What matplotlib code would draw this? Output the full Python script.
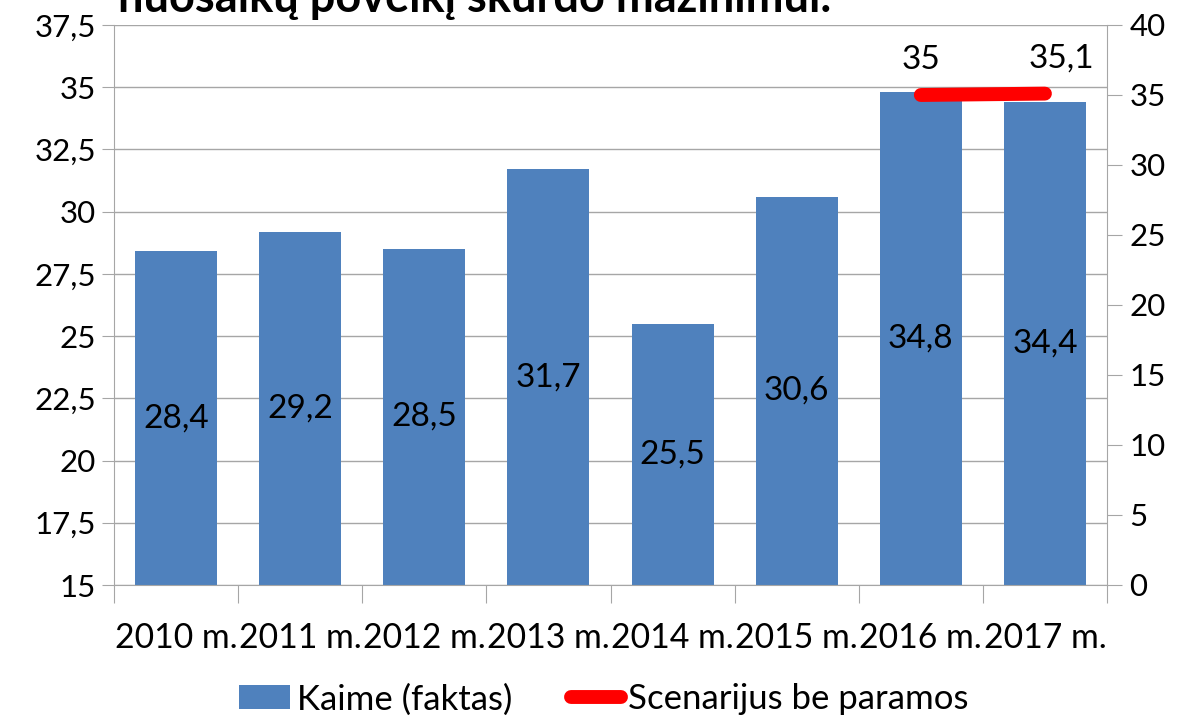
import matplotlib
matplotlib.use("Agg")
import matplotlib.pyplot as plt
import numpy as np

years = ["2010 m.", "2011 m.", "2012 m.", "2013 m.", "2014 m.", "2015 m.", "2016 m.", "2017 m."]
kaime = [28.4, 29.2, 28.5, 31.7, 25.5, 30.6, 34.8, 34.4]
scenario_years = ["2016 m.", "2017 m."]
scenario = [35.0, 35.1]

left_ticks = [15, 17.5, 20, 22.5, 25, 27.5, 30, 32.5, 35, 37.5]
right_ticks = [0, 5, 10, 15, 20, 25, 30, 35, 40]

BLUE = "#4F81BD"
RED = "#FF0000"
GRID = "#A6A6A6"

plt.rcParams["font.family"] = ["Lato", "DejaVu Sans"]

fig = plt.figure(figsize=(11.8, 7.18), dpi=100)
ax = fig.add_axes([114 / 1180, 1 - 585 / 718, (1107 - 114) / 1180, (585 - 25) / 718])

x = np.arange(len(years))
bars = ax.bar(x, kaime, width=0.66, bottom=0, color=BLUE, zorder=2, label="Kaime (faktas)")
ax.set_ylim(15, 37.5)
ax.set_xlim(-0.5, len(years) - 0.5)
ax.set_yticks(left_ticks)
ax.set_yticklabels([f"{t:g}".replace(".", ",") for t in left_ticks], fontsize=22.5)
ax.yaxis.grid(True, color=GRID, linewidth=1, zorder=0)
ax.set_axisbelow(True)

for xi, v in zip(x, kaime):
    ax.text(xi, (15 + v) / 2, f"{v:.1f}".replace(".", ","), ha="center", va="center",
            fontsize=24, color="black", zorder=4)

# category ticks at the boundaries, labels centered
ax.set_xticks(np.arange(len(years) + 1) - 0.5, minor=False)
ax.set_xticklabels([])
ax.set_xticks(x, minor=True)
ax.set_xticklabels(years, minor=True, fontsize=24.3)
ax.tick_params(axis="x", which="major", length=13, color=GRID, direction="out")
ax.tick_params(axis="x", which="minor", length=0, pad=27)
ax.tick_params(axis="y", length=9, color=GRID, pad=4)

for side in ["left", "right", "bottom"]:
    ax.spines[side].set_color(GRID)
ax.spines["top"].set_visible(False)

ax2 = ax.twinx()
ax2.set_ylim(0, 40)
ax2.set_yticks(right_ticks)
ax2.set_yticklabels([str(t) for t in right_ticks], fontsize=22.5)
ax2.tick_params(axis="y", length=11, color=GRID, pad=5)
for side in ["left", "right", "bottom", "top"]:
    ax2.spines[side].set_visible(False)

sx = [years.index(y) for y in scenario_years]
line, = ax2.plot(sx, scenario, color=RED, linewidth=10, solid_capstyle="round",
                 zorder=5, label="Scenarijus be paramos")
label_shift = [0.0, 0.13]
for xi, v, dx in zip(sx, scenario, label_shift):
    ax2.text(xi + dx, v + 1.4, f"{v:g}".replace(".", ","), ha="center", va="bottom",
             fontsize=24, color="black")

fig.text(118 / 1180, 1 - 12 / 718, "nuosaikų poveikį skurdo mažinimui.", fontsize=32.5,
         fontweight="bold", ha="left", va="baseline")

fig.legend([bars, line], ["Kaime (faktas)", "Scenarijus be paramos"], loc="lower center",
           bbox_to_anchor=(0.512, -0.04), ncol=2, frameon=False, fontsize=25,
           handlelength=1.45, handletextpad=0.2, columnspacing=1.7)

fig.savefig("out.png", dpi=100)
